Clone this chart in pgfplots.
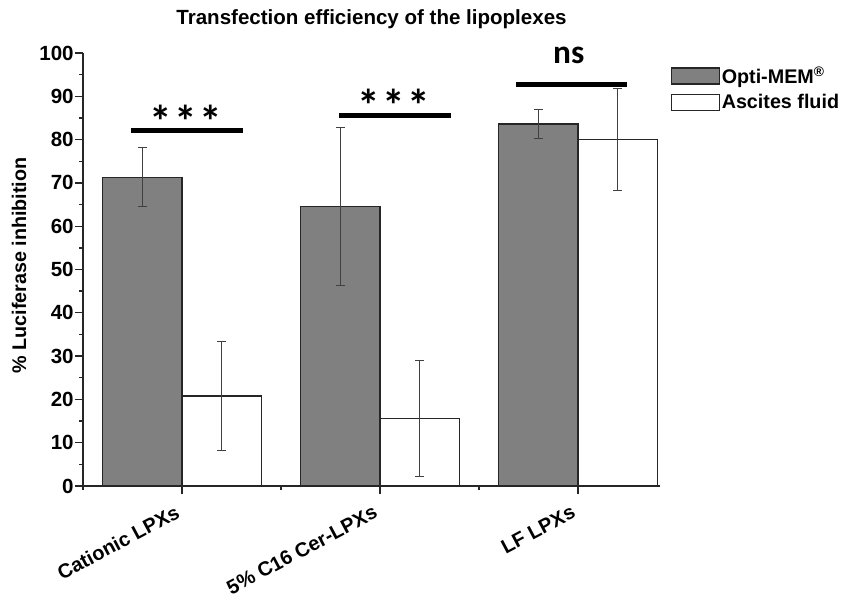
\documentclass[border=0pt]{standalone}
\usepackage{fontspec}
\setmainfont{Liberation Sans}
\newfontfamily\carlito{Carlito}
\usepackage{pgfplots}
\pgfplotsset{compat=1.18}
\usepackage{pgfplotstable}

\pgfplotstableread{
x y e
1 71.3 6.8
2 64.6 18.3
3 83.6 3.4
}\optimem
\pgfplotstableread{
x y e
1 20.8 12.6
2 15.6 13.4
3 80.0 11.7
}\ascites

\begin{document}
\begin{tikzpicture}
\path[use as bounding box] (-62.25pt,-91.5pt) rectangle (573.75pt,364.5pt);
\begin{axis}[
  at={(0,0)}, anchor=south west,
  width=432.75pt, height=324.75pt, scale only axis,
  xmin=0.5, xmax=3.414, ymin=0, ymax=100,
  clip=false,
  axis x line*=bottom, axis y line*=left,
  axis line style={-, line width=1pt, black!85},
  ybar=0pt, bar width=0.4,
  xtick={1,2,3},
  xticklabels={Cationic LPXs, 5\% C16 Cer-LPXs, LF LPXs},
  minor xtick={0.5,1.5,2.5},
  ytick={0,10,...,100},
  minor ytick={5,15,...,95},
  tick align=outside,
  major tick length=6pt, minor tick length=3pt,
  every tick/.style={line width=1pt, black!85},
  /pgf/number format/assume math mode=true,
  tick label style={font=\fontsize{15.4}{17}\selectfont\bfseries},
  yticklabel style={xshift=2.5pt},
  xticklabel style={rotate=28, anchor=north east, inner sep=0pt, xshift=-8.7pt, yshift=-3.9pt, font=\fontsize{15}{17}\selectfont\bfseries},
  ylabel={\% Luciferase inhibition},
  every axis y label/.style={at={([xshift=-48pt, yshift=3pt]axis description cs:0,0.5)}, rotate=90, anchor=center, font=\fontsize{14.8}{17}\selectfont\bfseries},
  title={Transfection efficiency of the lipoplexes},
  every axis title/.style={at={(axis description cs:0.5,1)}, anchor=center, yshift=25.5pt, font=\fontsize{15.4}{17}\selectfont\bfseries},
  legend style={draw=none, fill=none, at={(1.019,0.972)}, anchor=north west, inner sep=0pt, row sep=4.5pt,
    font=\fontsize{14.8}{17}\selectfont\bfseries, nodes={inner sep=1pt}},
  legend cell align=left,
  error bars/error bar style={line width=0.7pt, black!75},
  error bars/error mark options={rotate=90, mark size=3.2pt, line width=0.7pt, black!75},
]
\addplot+[fill=black!50, draw=black!85, line width=0.9pt,
  legend image code/.code={\draw[fill=black!50, draw=black!85, line width=0.9pt] (0pt,-6pt) rectangle (36pt,6pt);},
  error bars/.cd, y dir=both, y explicit]
  table[x=x, y=y, y error=e]{\optimem};
\addlegendentry{Opti-MEM\textsuperscript{\textregistered}}
\addplot+[fill=white, draw=black!85, line width=0.9pt,
  legend image code/.code={\draw[fill=white, draw=black!85, line width=0.9pt] (0pt,-6pt) rectangle (36pt,6pt);},
  error bars/.cd, y dir=both, y explicit]
  table[x=x, y=y, y error=e]{\ascites};
\addlegendentry{Ascites fluid}

\draw[line width=3.75pt] (axis cs:0.742,82) -- (axis cs:1.308,82);
\draw[line width=3.75pt] (axis cs:1.793,85.5) -- (axis cs:2.359,85.5);
\draw[line width=3.75pt] (axis cs:2.687,92.8) -- (axis cs:3.247,92.8);
\node[font=\carlito\bfseries\fontsize{34}{36}\selectfont, anchor=center] at (axis cs:1.02,84.3) {*\kern1.8pt*\kern1.8pt*};
\node[font=\carlito\bfseries\fontsize{34}{36}\selectfont, anchor=center] at (axis cs:2.07,88.0) {*\kern1.8pt*\kern1.8pt*};
\node[font=\carlito\bfseries\fontsize{25}{30}\selectfont, anchor=base] at (axis cs:2.953,97.5) {ns};
\end{axis}
\end{tikzpicture}
\end{document}
